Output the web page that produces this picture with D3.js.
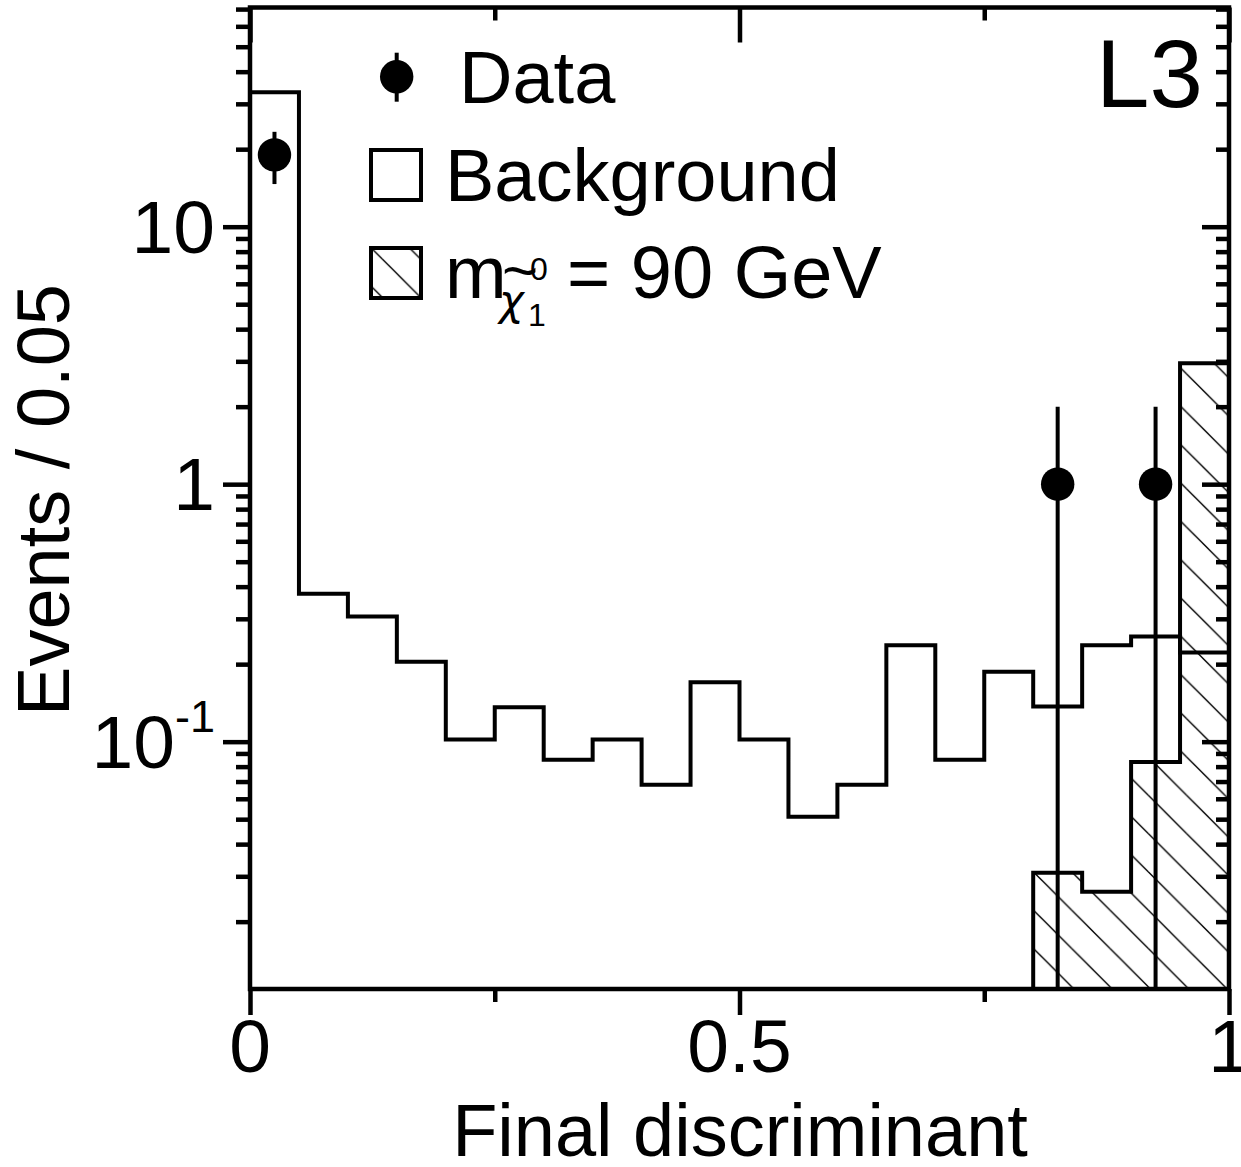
<!DOCTYPE html>
<html>
<head>
<meta charset="utf-8">
<script src="https://cdn.jsdelivr.net/npm/d3@7"></script>
<style>
  html, body { margin: 0; padding: 0; background: #fff; }
  svg { display: block; }
  text { font-family: "Liberation Sans", Arial, Helvetica, sans-serif; fill: #000; }
</style>
</head>
<body>
<svg id="chart" width="1241" height="1167"></svg>
<script>
// ---------------- data ----------------
const binWidth = 0.05;
const background = [33.3, 0.375, 0.306, 0.2045, 0.102, 0.136, 0.0851, 0.102, 0.068, 0.170,
                    0.102, 0.0511, 0.068, 0.237, 0.0851, 0.187, 0.137, 0.237, 0.256, 0.222];
const signal     = [0, 0, 0, 0, 0, 0, 0, 0, 0, 0,
                    0, 0, 0, 0, 0, 0, 0.031, 0.0261, 0.0834, 2.95];
const dataCounts = [19, 0, 0, 0, 0, 0, 0, 0, 0, 0,
                    0, 0, 0, 0, 0, 0, 1, 0, 1, 0];
const xMajorTicks = [0, 0.5, 1];
const xMinorTicks = [0.25, 0.75];
const xTickLabels = ["0", "0.5", "1"];
const yMajorTicks = [0.1, 1, 10];
const yMinorTicks = [0.02, 0.03, 0.04, 0.05, 0.06, 0.07, 0.08, 0.09,
                     0.2, 0.3, 0.4, 0.5, 0.6, 0.7, 0.8, 0.9,
                     2, 3, 4, 5, 6, 7, 8, 9, 20, 30, 40, 50, 60, 70];
const yTickLabels = [["10", "-1"], ["1", ""], ["10", ""]];
const xTitle = "Final discriminant";
const yTitle = "Events / 0.05";
const legendLabels = ["Data", "Background"];
const signalLabel = { base: "m", tilde: "~", sym: "χ", sup: "0", sub: "1", rest: "= 90 GeV" };
const experiment = "L3";

// ---------------- layout ----------------
const svg = d3.select("#chart");
const x = d3.scaleLinear().domain([0, 1]).range([250, 1229]);
const y = d3.scaleLog().domain([0.01095, 71]).range([989, 7.5]);
const yBottom = y.range()[0];
const LW = 4.5;

// hatch pattern (user space so plot & legend share the phase)
const defs = svg.append("defs");
const P = 38.3, off = 8.4;
const pat = defs.append("pattern").attr("id", "hatch")
  .attr("patternUnits", "userSpaceOnUse").attr("width", P).attr("height", P);
pat.append("rect").attr("width", P).attr("height", P).attr("fill", "#fff");
[-1, 0, 1].forEach(k => {
  pat.append("path")
    .attr("d", `M${off + k * P - 2},${-2} L${off + k * P + P + 2},${P + 2}`)
    .attr("stroke", "#000").attr("stroke-width", 1.4);
});

// ---------------- signal (hatched) ----------------
const sigPts = [];
signal.forEach((v, i) => { if (v > 0) sigPts.push([i * binWidth, v]); });
sigPts.push([1, sigPts[sigPts.length - 1][1]]);
const area = d3.area()
  .x(d => x(d[0])).y0(yBottom).y1(d => y(d[1]))
  .curve(d3.curveStepAfter);
svg.append("path").datum(sigPts)
  .attr("d", area)
  .attr("fill", "url(#hatch)")
  .attr("stroke", "#000").attr("stroke-width", 4);

// ---------------- background (step line) ----------------
const bgPts = background.map((v, i) => [i * binWidth, v]);
bgPts.push([1, background[background.length - 1]]);
const line = d3.line().x(d => x(d[0])).y(d => y(d[1])).curve(d3.curveStepAfter);
svg.append("path").datum(bgPts)
  .attr("d", line)
  .attr("fill", "none")
  .attr("stroke", "#000").attr("stroke-width", 4);

// ---------------- axes ----------------
function styleAxis(g) {
  g.select(".domain").remove();
  g.selectAll(".tick line").attr("stroke", "#000").attr("stroke-width", LW);
  g.selectAll(".tick text").remove();
}
const xr = x.range(), yr = y.range();
// left (outward)
svg.append("g").attr("transform", `translate(${xr[0]},0)`)
  .call(d3.axisLeft(y).tickValues(yMajorTicks).tickSize(27).tickSizeOuter(0)).call(styleAxis);
svg.append("g").attr("transform", `translate(${xr[0]},0)`)
  .call(d3.axisLeft(y).tickValues(yMinorTicks).tickSize(14).tickSizeOuter(0)).call(styleAxis);
// right (inward)
svg.append("g").attr("transform", `translate(${xr[1]},0)`)
  .call(d3.axisRight(y).tickValues(yMajorTicks).tickSize(-27).tickSizeOuter(0)).call(styleAxis);
svg.append("g").attr("transform", `translate(${xr[1]},0)`)
  .call(d3.axisRight(y).tickValues(yMinorTicks).tickSize(-13).tickSizeOuter(0)).call(styleAxis);
// bottom (outward)
svg.append("g").attr("transform", `translate(0,${yr[0]})`)
  .call(d3.axisBottom(x).tickValues(xMajorTicks).tickSize(26).tickSizeOuter(0)).call(styleAxis);
svg.append("g").attr("transform", `translate(0,${yr[0]})`)
  .call(d3.axisBottom(x).tickValues(xMinorTicks).tickSize(13).tickSizeOuter(0)).call(styleAxis);
// top (inward)
svg.append("g").attr("transform", `translate(0,${yr[1]})`)
  .call(d3.axisTop(x).tickValues(xMajorTicks).tickSize(-35).tickSizeOuter(0)).call(styleAxis);
svg.append("g").attr("transform", `translate(0,${yr[1]})`)
  .call(d3.axisTop(x).tickValues(xMinorTicks).tickSize(-13).tickSizeOuter(0)).call(styleAxis);

// frame
svg.append("rect")
  .attr("x", xr[0]).attr("y", yr[1])
  .attr("width", xr[1] - xr[0]).attr("height", yr[0] - yr[1])
  .attr("fill", "none").attr("stroke", "#000").attr("stroke-width", LW);

// tick labels
const tickFont = 75;
xMajorTicks.forEach((t, i) => {
  svg.append("text").attr("x", x(t)).attr("y", 1072)
    .attr("text-anchor", "middle").attr("font-size", tickFont).text(xTickLabels[i]);
});
yMajorTicks.forEach((t, i) => {
  const lab = yTickLabels[i];
  const txt = svg.append("text").attr("x", 215).attr("y", y(t) + 26)
    .attr("text-anchor", "end").attr("font-size", tickFont);
  txt.append("tspan").text(lab[0]);
  if (lab[1]) {
    txt.append("tspan").attr("font-size", 45).attr("dy", -36).text(lab[1]);
  }
});

// axis titles
svg.append("text").attr("x", 740).attr("y", 1156)
  .attr("text-anchor", "middle").attr("font-size", 74).text(xTitle);
svg.append("text")
  .attr("transform", "translate(69,500) rotate(-90)")
  .attr("text-anchor", "middle").attr("font-size", 74).text(yTitle);

// ---------------- data points ----------------
const pts = [];
dataCounts.forEach((v, i) => { if (v > 0) pts.push([(i + 0.5) * binWidth, v]); });
const gData = svg.append("g");
pts.forEach(d => {
  const err = Math.sqrt(d[1]);
  const lo = d[1] - err > y.domain()[0] ? y(d[1] - err) : yBottom;
  gData.append("line")
    .attr("x1", x(d[0])).attr("x2", x(d[0]))
    .attr("y1", y(d[1] + err)).attr("y2", lo)
    .attr("stroke", "#000").attr("stroke-width", 4);
  gData.append("circle").attr("cx", x(d[0])).attr("cy", y(d[1])).attr("r", 16.7).attr("fill", "#000");
});

// ---------------- legend ----------------
const legFont = 74;
const lg = svg.append("g");
lg.append("line").attr("x1", 396.7).attr("x2", 396.7).attr("y1", 52.7).attr("y2", 101.7)
  .attr("stroke", "#000").attr("stroke-width", 4);
lg.append("circle").attr("cx", 396.7).attr("cy", 76.7).attr("r", 16.7).attr("fill", "#000");
lg.append("text").attr("x", 459).attr("y", 103).attr("font-size", legFont).text(legendLabels[0]);

lg.append("rect").attr("x", 371).attr("y", 150).attr("width", 50).attr("height", 50)
  .attr("fill", "none").attr("stroke", "#000").attr("stroke-width", 4);
lg.append("text").attr("x", 445).attr("y", 201).attr("font-size", legFont).text(legendLabels[1]);

lg.append("rect").attr("x", 371).attr("y", 248).attr("width", 50).attr("height", 50)
  .attr("fill", "url(#hatch)").attr("stroke", "#000").attr("stroke-width", 4);
const sl = lg.append("text").attr("x", 445).attr("y", 298).attr("font-size", legFont);
sl.append("tspan").text(signalLabel.base);
sl.append("tspan").attr("x", 499).attr("y", 315).attr("font-size", 42)
  .attr("font-family", "DejaVu Sans").attr("font-style", "italic").text(signalLabel.sym);
sl.append("tspan").attr("x", 502).attr("y", 292).attr("font-size", 62).text(signalLabel.tilde);
sl.append("tspan").attr("x", 530).attr("y", 280).attr("font-size", 32).text(signalLabel.sup);
sl.append("tspan").attr("x", 528).attr("y", 326).attr("font-size", 32).text(signalLabel.sub);
sl.append("tspan").attr("x", 567).attr("y", 298).attr("font-size", legFont).text(signalLabel.rest);

// experiment label
svg.append("text").attr("x", 1096).attr("y", 107).attr("font-size", 96).text(experiment);
</script>
</body>
</html>
